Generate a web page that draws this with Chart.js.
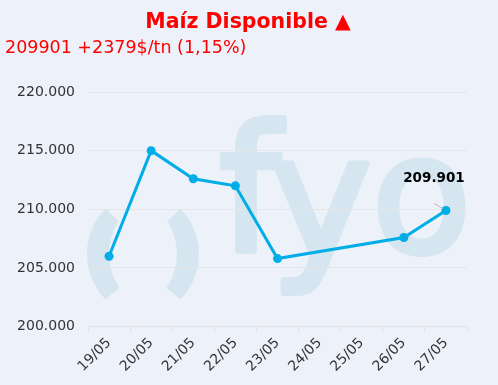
<!DOCTYPE html>
<html>
<head>
<meta charset="utf-8">
<script src="https://cdn.jsdelivr.net/npm/chart.js@4"></script>
<style>
  html, body { margin: 0; padding: 0; background: #edf1f9; }
  #wrap { width: 498px; height: 385px; }
</style>
</head>
<body>
<div id="wrap"><canvas id="maiz-chart"></canvas></div>
<script>
// Datos del gráfico
const fechas = ['19/05', '20/05', '21/05', '22/05', '23/05', '24/05', '25/05', '26/05', '27/05'];
const precios = [206000, 215000, 212600, 212000, 205800, null, null, 207600, 209901];
const ticksY = [200000, 205000, 210000, 215000, 220000];
const titulo = 'Maíz Disponible ▲';
const subtitulo = '209901 +2379$/tn (1,15%)';
const etiquetaUltimo = '209.901';

const fuente = '"DejaVu Sans", sans-serif';

// Formato con punto de miles
function formatoMiles(v) {
  return String(Math.round(v)).replace(/\B(?=(\d{3})+(?!\d))/g, '.');
}

const grados = g => g * Math.PI / 180;

// Paréntesis izquierdo en forma de medialuna
function parentesis(ctx) {
  ctx.beginPath();
  ctx.arc(152, 254, 65, grados(224.4), grados(135.6), true);
  ctx.arc(168.5, 254, 59.5, grados(145.5), grados(213), false);
  ctx.closePath();
  ctx.fill();
}

// Fondo y marca de agua "(fyo"
const fondoPlugin = {
  id: 'fondo',
  beforeDraw(chart) {
    const ctx = chart.ctx;
    ctx.save();
    ctx.fillStyle = '#edf1f9';
    ctx.fillRect(0, 0, chart.width, chart.height);

    const col = '#d5e6f0';
    ctx.fillStyle = col;
    parentesis(ctx);
    ctx.save();
    ctx.translate(286, 0);
    ctx.scale(-1, 1);
    parentesis(ctx);
    ctx.restore();

    // letras: [letra, borde izq., línea base, tamaño]
    ctx.strokeStyle = col;
    ctx.lineWidth = 6;
    ctx.lineJoin = 'round';
    ctx.textBaseline = 'alphabetic';
    ctx.textAlign = 'left';
    const letras = [['f', 220, 251, 175], ['y', 272, 257, 172], ['o', 377, 252, 162]];
    letras.forEach(([ch, left, base, size]) => {
      ctx.font = size + 'px ' + fuente;
      const m = ctx.measureText(ch);
      const x = left + 3 + m.actualBoundingBoxLeft;
      ctx.fillText(ch, x, base);
      ctx.strokeText(ch, x, base);
    });
    ctx.restore();
  }
};

// Etiqueta del último valor
const etiquetaPlugin = {
  id: 'etiqueta',
  afterDatasetsDraw(chart) {
    const meta = chart.getDatasetMeta(0);
    const p = meta.data[precios.length - 1];
    if (!p) return;
    const ctx = chart.ctx;
    ctx.save();
    ctx.strokeStyle = '#bbbbbb';
    ctx.lineWidth = 1;
    ctx.beginPath();
    ctx.moveTo(p.x - 12, p.y - 7);
    ctx.lineTo(p.x - 3, p.y - 2);
    ctx.stroke();
    ctx.fillStyle = '#000';
    ctx.font = 'bold 13.5px ' + fuente;
    ctx.textAlign = 'center';
    ctx.textBaseline = 'alphabetic';
    ctx.fillText(etiquetaUltimo, p.x - 12, p.y - 28);
    ctx.restore();
  }
};

const ctx = document.getElementById('maiz-chart').getContext('2d');
new Chart(ctx, {
  type: 'line',
  data: {
    labels: fechas,
    datasets: [{
      label: 'Maíz',
      data: precios,
      borderColor: '#00ade6',
      backgroundColor: '#00ade6',
      borderWidth: 3,
      pointRadius: 4.5,
      pointBackgroundColor: '#00ade6',
      pointBorderWidth: 0,
      spanGaps: true,
      tension: 0
    }]
  },
  options: {
    responsive: true,
    maintainAspectRatio: false,
    animation: false,
    devicePixelRatio: 1,
    layout: { padding: { left: 5, right: 7, top: 4, bottom: 8 } },
    plugins: {
      legend: { display: false },
      tooltip: { enabled: false },
      title: {
        display: true,
        text: titulo,
        color: '#ff0000',
        font: { family: fuente, size: 20.5, weight: 'bold' },
        padding: { top: 6, bottom: 3 }
      },
      subtitle: {
        display: true,
        text: subtitulo,
        align: 'start',
        color: '#ff0000',
        font: { family: fuente, size: 17.5, weight: 'normal' },
        padding: { top: 0, bottom: 33.4 }
      }
    },
    scales: {
      x: {
        offset: true,
        afterFit(scale) {
          scale.paddingLeft = 0;
          scale.paddingRight = 31;
        },
        grid: {
          offset: true,
          drawOnChartArea: false,
          drawTicks: true,
          tickLength: 6,
          color: '#e3e3e3'
        },
        border: { color: '#e3e3e3' },
        ticks: {
          autoSkip: false,
          minRotation: 45,
          maxRotation: 45,
          color: '#333',
          padding: 2,
          font: { family: fuente, size: 14 }
        }
      },
      y: {
        min: 200000,
        max: 220000,
        afterBuildTicks(axis) {
          axis.ticks = ticksY.map(v => ({ value: v }));
        },
        afterFit(scale) {
          scale.width = 83;
        },
        grid: { color: '#e6e6e6', drawTicks: false },
        border: { display: false },
        ticks: {
          color: '#333',
          padding: 13,
          font: { family: fuente, size: 14 },
          callback: v => formatoMiles(v)
        }
      }
    }
  },
  plugins: [fondoPlugin, etiquetaPlugin]
});
</script>
</body>
</html>
